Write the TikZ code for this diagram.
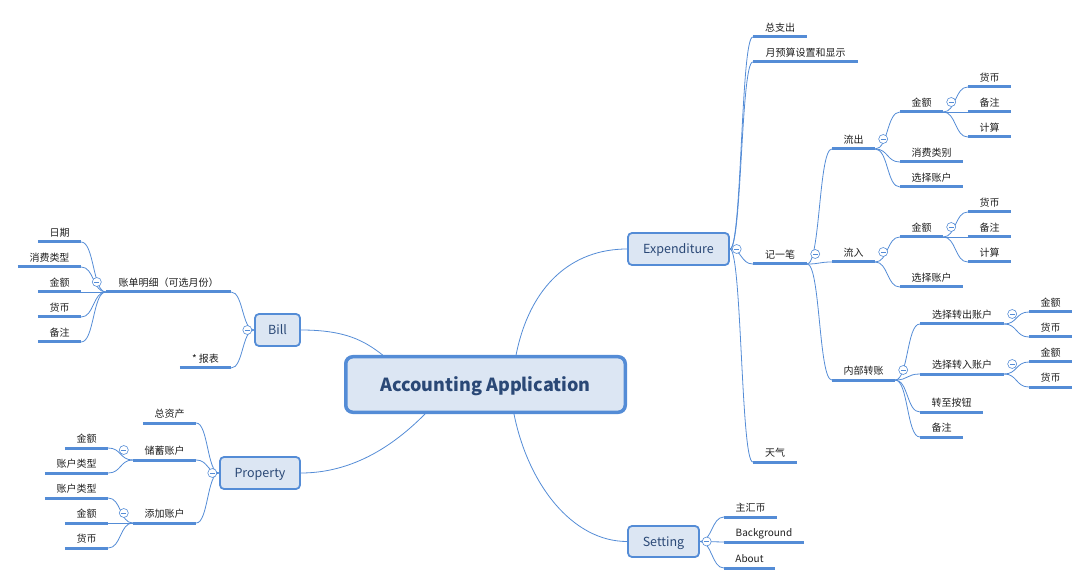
\documentclass[tikz,border=0pt]{standalone}
\usepackage{fontspec}
\setmainfont{Noto Sans CJK SC}
\usetikzlibrary{positioning,backgrounds}
\definecolor{linec}{RGB}{84,140,214}
\definecolor{boxfill}{RGB}{220,230,243}
\definecolor{boxtext}{RGB}{42,72,118}
\definecolor{topictext}{RGB}{30,30,30}
\tikzset{
   topic/.style = {%
    inner sep=0pt,
    anchor=south,
    text depth=5pt,
    text=topictext,
    font=\fontsize{10}{12}\selectfont},
   box/.style = {%
    shape=rectangle,
    rounded corners=4pt,
    draw=linec,
    line width=1.8pt,
    fill=boxfill,
    text=boxtext,
    text depth=0pt,
    minimum height=32pt,
    font=\fontsize{12.5}{14}\selectfont},
   mainbox/.style = {%
    box,
    rounded corners=7pt,
    line width=3.5pt,
    minimum width=279.5pt,
    minimum height=55.5pt,
    font=\bfseries\fontsize{18}{21}\selectfont},
   fold/.style = {%
    circle,
    draw=linec,
    fill=white,
    line width=0.6pt,
    inner sep=0pt,
    minimum size=9pt,
    path picture={\draw[linec, line width=0.6pt]
      ([xshift=-2.4pt]path picture bounding box.center) --
      ([xshift=2.4pt]path picture bounding box.center);}},
   uline/.style = {draw=linec, line width=3pt},
   branch/.style = {draw=linec, line width=0.8pt},
   rlink/.style = {out=0, in=180, out distance=#1, in distance=#1},
   llink/.style = {out=180, in=0, out distance=#1, in distance=#1},
}

\begin{document}
\begin{tikzpicture}[x=1pt, y=-1pt]
    \useasboundingbox (0,0) rectangle (1090,585);
    % centre and first level
    \node[mainbox] (main) at (485.5,384.5) {Accounting Application};
    \node[box, minimum width=101pt] (exp) at (678.5,249) {Expenditure};
    \node[box, minimum width=71pt, minimum height=31pt] (set) at (663.5,541.5) {Setting};
    \node[box, minimum width=45pt] (bill) at (277.5,330) {Bill};
    \node[box, minimum width=80pt] (prop) at (260,473) {Property};

    % Expenditure
    \node[topic, minimum width=54pt] (e1) at (780,37) {总支出};
    \node[topic, minimum width=105pt] (e2) at (805.5,62) {月预算设置和显示};
    \node[topic, minimum width=54pt] (e3) at (780,264) {记一笔};
    \node[topic, minimum width=44pt] (e4) at (775,462) {天气};
    \node[topic, minimum width=43pt] (e3a) at (853.5,149) {流出};
    \node[topic, minimum width=43pt] (e3b) at (853.5,262) {流入};
    \node[topic, minimum width=63pt] (e3c) at (863.5,380) {内部转账};
    \node[topic, minimum width=43pt] (e3a1) at (921.5,112) {金额};
    \node[topic, minimum width=63pt] (e3a2) at (931.5,162) {消费类别};
    \node[topic, minimum width=63pt] (e3a3) at (931.5,187) {选择账户};
    \node[topic, minimum width=43pt] (e3a1a) at (989.5,87) {货币};
    \node[topic, minimum width=43pt] (e3a1b) at (989.5,112) {备注};
    \node[topic, minimum width=43pt] (e3a1c) at (989.5,137) {计算};
    \node[topic, minimum width=43pt] (e3b1) at (921.5,237) {金额};
    \node[topic, minimum width=63pt] (e3b2) at (931.5,287) {选择账户};
    \node[topic, minimum width=43pt] (e3b1a) at (989.5,212) {货币};
    \node[topic, minimum width=43pt] (e3b1b) at (989.5,237) {备注};
    \node[topic, minimum width=43pt] (e3b1c) at (989.5,262) {计算};
    \node[topic, minimum width=84pt] (e3c1) at (962,324) {选择转出账户};
    \node[topic, minimum width=84pt] (e3c2) at (962,374) {选择转入账户};
    \node[topic, minimum width=63pt] (e3c3) at (951.5,412) {转至按钮};
    \node[topic, minimum width=43pt] (e3c4) at (941.5,437) {备注};
    \node[topic, minimum width=43pt] (e3c1a) at (1050.5,312) {金额};
    \node[topic, minimum width=43pt] (e3c1b) at (1050.5,337) {货币};
    \node[topic, minimum width=43pt] (e3c2a) at (1050.5,362) {金额};
    \node[topic, minimum width=43pt] (e3c2b) at (1050.5,387) {货币};

    % Setting
    \node[topic, minimum width=53pt] (s1) at (750.5,517) {主汇币};
    \node[topic, minimum width=80pt] (s2) at (764,542) {Background};
    \node[topic, minimum width=51pt] (s3) at (749.5,568) {About};

    % Bill
    \node[topic, minimum width=125pt] (b1) at (168.5,292) {账单明细（可选月份）};
    \node[topic, minimum width=51pt] (b2) at (205.5,368) {* 报表};
    \node[topic, minimum width=43pt] (b1a) at (59.5,242) {日期};
    \node[topic, minimum width=63pt] (b1b) at (49.5,267) {消费类型};
    \node[topic, minimum width=43pt] (b1c) at (59.5,292) {金额};
    \node[topic, minimum width=43pt] (b1d) at (59.5,317) {货币};
    \node[topic, minimum width=43pt] (b1e) at (59.5,342) {备注};

    % Property
    \node[topic, minimum width=53pt] (p1) at (169.5,423) {总资产};
    \node[topic, minimum width=63pt] (p2) at (164.5,460) {储蓄账户};
    \node[topic, minimum width=63pt] (p3) at (164.5,523) {添加账户};
    \node[topic, minimum width=43pt] (p2a) at (86.5,448) {金额};
    \node[topic, minimum width=63pt] (p2b) at (76.5,473) {账户类型};
    \node[topic, minimum width=63pt] (p3a) at (76.5,498) {账户类型};
    \node[topic, minimum width=43pt] (p3b) at (86.5,523) {金额};
    \node[topic, minimum width=43pt] (p3c) at (86.5,548) {货币};

    \foreach \n in {e1,e2,e3,e4,e3a,e3b,e3c,e3a1,e3a2,e3a3,e3a1a,e3a1b,e3a1c,
        e3b1,e3b2,e3b1a,e3b1b,e3b1c,e3c1,e3c2,e3c3,e3c4,e3c1a,e3c1b,e3c2a,e3c2b,
        s1,s2,s3,b1,b2,b1a,b1b,b1c,b1d,b1e,p1,p2,p3,p2a,p2b,p3a,p3b,p3c}
        \draw[uline] (\n.south west) -- (\n.south east);

    % fold buttons
    \node[fold, right=2pt of exp] (fexp) {};
    \node[fold, right=2pt of set] (fset) {};
    \node[fold, left=2pt of bill] (fbill) {};
    \node[fold, left=2pt of prop] (fprop) {};
    \foreach \n in {e3,e3a,e3a1,e3b,e3b1,e3c,e3c1,e3c2}
        \node[fold] (f\n) at ([xshift=8pt,yshift=10pt]\n.south east) {};
    \foreach \n in {b1,p2,p3}
        \node[fold] (f\n) at ([xshift=-9pt,yshift=10pt]\n.south west) {};

    \begin{scope}[on background layer]
        \draw[branch] (bill.east) .. controls +(45,0) and +(-18,-14) .. (main.164);
        \draw[branch] (prop.east) .. controls +(60,0) and +(-22,22) .. (main.206);
        \draw[branch] (main.44) .. controls +(14,-70) and +(-55,0) .. (exp.west);
        \draw[branch] (main.-46) .. controls +(14,70) and +(-55,0) .. (set.west);

        \foreach \c in {e1,e2,e3,e4}
            \draw[branch] (exp.east) to[rlink=12pt] (\c.south west);
        \foreach \c in {e3a,e3b,e3c}
            \draw[branch] (e3.south east) to[rlink=13pt] (\c.south west);
        \foreach \c in {e3a1,e3a2,e3a3}
            \draw[branch] (e3a.south east) to[rlink=13pt] (\c.south west);
        \foreach \c in {e3a1a,e3a1b,e3a1c}
            \draw[branch] (e3a1.south east) to[rlink=13pt] (\c.south west);
        \foreach \c in {e3b1,e3b2}
            \draw[branch] (e3b.south east) to[rlink=13pt] (\c.south west);
        \foreach \c in {e3b1a,e3b1b,e3b1c}
            \draw[branch] (e3b1.south east) to[rlink=13pt] (\c.south west);
        \foreach \c in {e3c1,e3c2,e3c3,e3c4}
            \draw[branch] (e3c.south east) to[rlink=13pt] (\c.south west);
        \foreach \c in {e3c1a,e3c1b}
            \draw[branch] (e3c1.south east) to[rlink=13pt] (\c.south west);
        \foreach \c in {e3c2a,e3c2b}
            \draw[branch] (e3c2.south east) to[rlink=13pt] (\c.south west);
        \foreach \c in {s1,s2,s3}
            \draw[branch] (set.east) to[rlink=12pt] (\c.south west);

        \foreach \c in {b1,b2}
            \draw[branch] (bill.west) to[llink=12pt] (\c.south east);
        \foreach \c in {b1a,b1b,b1c,b1d,b1e}
            \draw[branch] (b1.south west) to[llink=13pt] (\c.south east);
        \foreach \c in {p1,p2,p3}
            \draw[branch] (prop.west) to[llink=12pt] (\c.south east);
        \foreach \c in {p2a,p2b}
            \draw[branch] (p2.south west) to[llink=13pt] (\c.south east);
        \foreach \c in {p3a,p3b,p3c}
            \draw[branch] (p3.south west) to[llink=13pt] (\c.south east);
    \end{scope}
\end{tikzpicture}
\end{document}
